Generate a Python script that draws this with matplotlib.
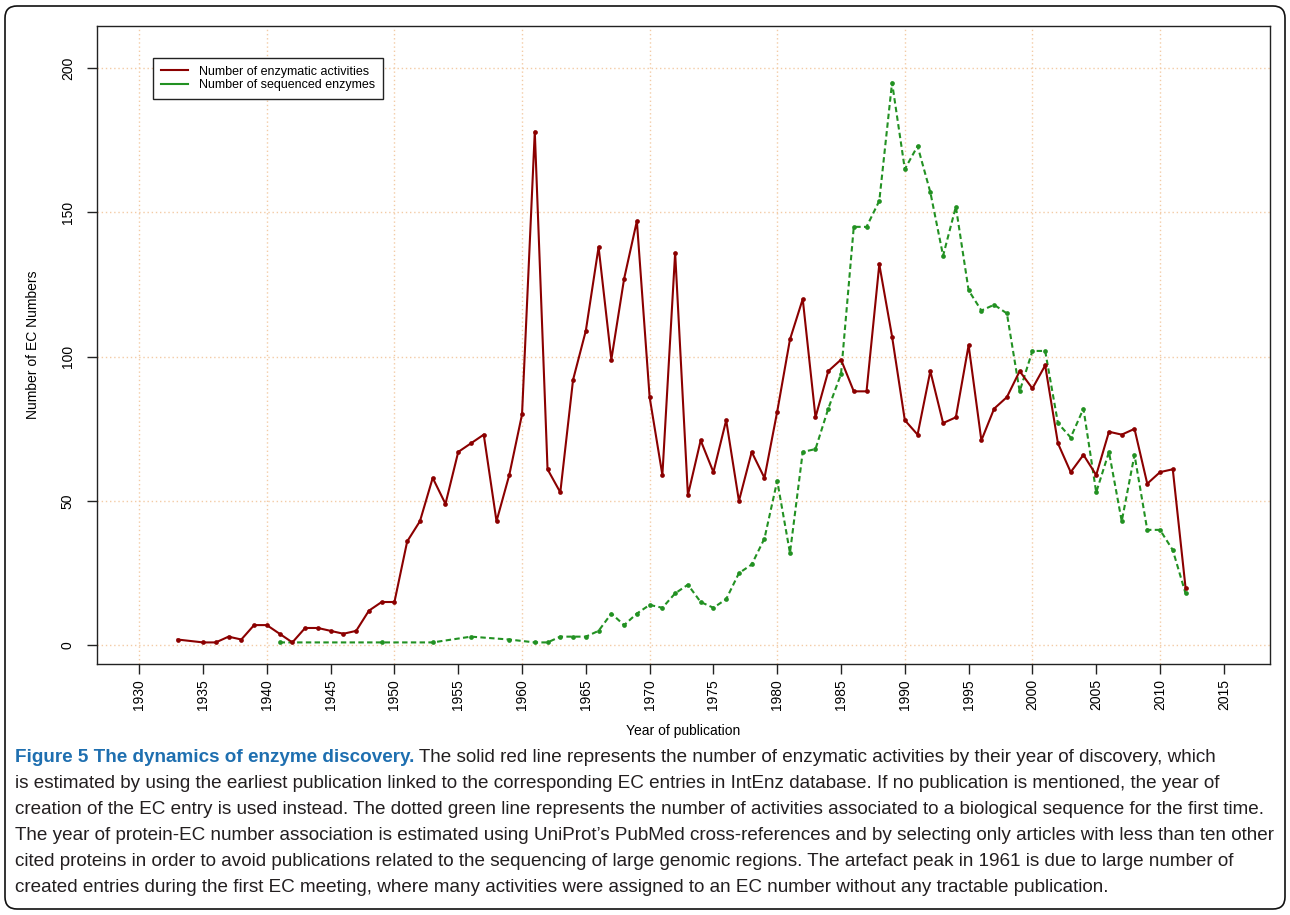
import matplotlib
matplotlib.use('Agg')
import matplotlib.pyplot as plt
from matplotlib import font_manager as fm
from matplotlib.patches import FancyBboxPatch
from matplotlib.lines import Line2D
from matplotlib.transforms import IdentityTransform

# ---------------- data ----------------
activity_years = [1933, 1935, 1936, 1937, 1938, 1939, 1940, 1941, 1942, 1943,
                  1944, 1945, 1946, 1947, 1948, 1949, 1950, 1951, 1952, 1953,
                  1954, 1955, 1956, 1957, 1958, 1959, 1960, 1961, 1962, 1963,
                  1964, 1965, 1966, 1967, 1968, 1969, 1970, 1971, 1972, 1973,
                  1974, 1975, 1976, 1977, 1978, 1979, 1980, 1981, 1982, 1983,
                  1984, 1985, 1986, 1987, 1988, 1989, 1990, 1991, 1992, 1993,
                  1994, 1995, 1996, 1997, 1998, 1999, 2000, 2001, 2002, 2003,
                  2004, 2005, 2006, 2007, 2008, 2009, 2010, 2011, 2012]
activity_counts = [2, 1, 1, 3, 2, 7, 7, 4, 1, 6,
                   6, 5, 4, 5, 12, 15, 15, 36, 43, 58,
                   49, 67, 70, 73, 43, 59, 80, 178, 61, 53,
                   92, 109, 138, 99, 127, 147, 86, 59, 136, 52,
                   71, 60, 78, 50, 67, 58, 81, 106, 120, 79,
                   95, 99, 88, 88, 132, 107, 78, 73, 95, 77,
                   79, 104, 71, 82, 86, 95, 89, 97, 70, 60,
                   66, 59, 74, 73, 75, 56, 60, 61, 20]

sequenced_years = [1941, 1949, 1953, 1956, 1959, 1961, 1962, 1963, 1964, 1965,
                   1966, 1967, 1968, 1969, 1970, 1971, 1972, 1973, 1974, 1975,
                   1976, 1977, 1978, 1979, 1980, 1981, 1982, 1983, 1984, 1985,
                   1986, 1987, 1988, 1989, 1990, 1991, 1992, 1993, 1994, 1995,
                   1996, 1997, 1998, 1999, 2000, 2001, 2002, 2003, 2004, 2005,
                   2006, 2007, 2008, 2009, 2010, 2011, 2012]
sequenced_counts = [1, 1, 1, 3, 2, 1, 1, 3, 3, 3,
                    5, 11, 7, 11, 14, 13, 18, 21, 15, 13,
                    16, 25, 28, 37, 57, 32, 67, 68, 82, 94,
                    145, 145, 154, 195, 165, 173, 157, 135, 152, 123,
                    116, 118, 115, 88, 102, 102, 77, 72, 82, 53,
                    67, 43, 66, 40, 40, 33, 18]

x_ticks = [1930, 1935, 1940, 1945, 1950, 1955, 1960, 1965, 1970, 1975,
           1980, 1985, 1990, 1995, 2000, 2005, 2010, 2015]
x_grid = [1930, 1940, 1950, 1960, 1970, 1980, 1990, 2000, 2010]
y_ticks = [0, 50, 100, 150, 200]

series_labels = ["Number of enzymatic activities", "Number of sequenced enzymes"]
x_label = "Year of publication"
y_label = "Number of EC Numbers"

caption_title = "Figure 5 The dynamics of enzyme discovery."
caption_lines = [
    " The solid red line represents the number of enzymatic activities by their year of discovery, which",
    "is estimated by using the earliest publication linked to the corresponding EC entries in IntEnz database. If no publication is mentioned, the year of",
    "creation of the EC entry is used instead. The dotted green line represents the number of activities associated to a biological sequence for the first time.",
    "The year of protein-EC number association is estimated using UniProt\u2019s PubMed cross-references and by selecting only articles with less than ten other",
    "cited proteins in order to avoid publications related to the sequencing of large genomic regions. The artefact peak in 1961 is due to large number of",
    "created entries during the first EC meeting, where many activities were assigned to an EC number without any tractable publication.",
]

# ---------------- style ----------------
W, H = 1290, 915
RED = '#8B0000'
GREEN = '#229122'
GRID = '#F3CBA5'

names = {f.name for f in fm.fontManager.ttflist}
axis_font = 'Liberation Sans' if 'Liberation Sans' in names else 'DejaVu Sans'
cap_font = 'Liberation Sans Narrow' if 'Liberation Sans Narrow' in names else axis_font
plt.rcParams['font.family'] = [axis_font, 'DejaVu Sans']

fig = plt.figure(figsize=(W / 100, H / 100), dpi=100)
fig.patch.set_facecolor('white')

def fx(px):
    return px / W

def fy(py):
    return 1 - py / H

ax_left, ax_right, ax_top, ax_bottom = 97, 1270, 26, 664
ax = fig.add_axes([fx(ax_left), fy(ax_bottom), fx(ax_right - ax_left), (ax_bottom - ax_top) / H])

# grid
for gx in x_grid:
    ax.axvline(gx, color=GRID, lw=1.0, ls=(0, (1, 2)), zorder=0)
for gy in y_ticks:
    ax.axhline(gy, color=GRID, lw=1.0, ls=(0, (1, 2)), zorder=0)

ax.plot(activity_years, activity_counts, color=RED, lw=1.5, marker='o',
        markersize=3.4, markeredgewidth=0, zorder=3)
ax.plot(sequenced_years, sequenced_counts, color=GREEN, lw=1.5, ls=(0, (2.6, 1.6)),
        marker='o', markersize=3.4, markeredgewidth=0, zorder=2)

ax.set_xlim(1926.69, 2018.62)
ax.set_ylim(-6.48, 214.6)
ax.set_xticks(x_ticks)
ax.set_xticklabels([str(t) for t in x_ticks], rotation=90, fontsize=10)
ax.set_yticks(y_ticks)
ax.set_yticklabels([str(t) for t in y_ticks], rotation=90, va='center', fontsize=10)
ax.tick_params(axis='both', direction='out', length=7, width=1.0, color='#222222')
ax.tick_params(axis='x', pad=4)
ax.tick_params(axis='y', pad=9)
for sp in ax.spines.values():
    sp.set_linewidth(1.0)
    sp.set_color('#222222')

fig.text(fx(683), fy(731), x_label, ha='center', va='center', fontsize=10)
fig.text(fx(33), fy(345), y_label, ha='center', va='center', rotation=90, fontsize=10)

handles = [Line2D([], [], color=RED, lw=1.5), Line2D([], [], color=GREEN, lw=1.5)]
leg = ax.legend(handles, series_labels, loc='upper left',
                bbox_to_anchor=(fx(153), fy(58)), bbox_transform=fig.transFigure,
                frameon=True, fancybox=False, edgecolor='#222222', framealpha=1,
                fontsize=9, handlelength=2.2, handletextpad=0.9, borderpad=0.6,
                labelspacing=0.15, borderaxespad=0)
leg.get_frame().set_linewidth(1.0)

# figure border
border = FancyBboxPatch((5, 6), 1280, 903, boxstyle='round,pad=0,rounding_size=12',
                        transform=IdentityTransform(), facecolor='none',
                        edgecolor='#111111', lw=1.2)
fig.patches.append(border)

# caption
renderer = fig.canvas.get_renderer()
widths = []
for ln in caption_lines[1:]:
    probe = fig.text(0, 0, ln, fontsize=10, family=[cap_font, 'DejaVu Sans'])
    widths.append(probe.get_window_extent(renderer).width)
    probe.remove()
cap_size = 10 * (1281 - 15) / max(widths)

line_y = [762, 788, 814, 840, 866, 892]
title = fig.text(fx(15), fy(line_y[0]), caption_title, fontsize=cap_size,
                 family=[cap_font, 'DejaVu Sans'], weight='bold', color='#1E6FB0',
                 ha='left', va='baseline')
tb = title.get_window_extent(renderer)
fig.text(tb.x1 / W, fy(line_y[0]), caption_lines[0], fontsize=cap_size,
         family=[cap_font, 'DejaVu Sans'], color='#231F20', ha='left', va='baseline')
for ln, yy in zip(caption_lines[1:], line_y[1:]):
    fig.text(fx(15), fy(yy), ln, fontsize=cap_size, family=[cap_font, 'DejaVu Sans'],
             color='#231F20', ha='left', va='baseline')

fig.savefig('out.png', dpi=100, facecolor='white')
